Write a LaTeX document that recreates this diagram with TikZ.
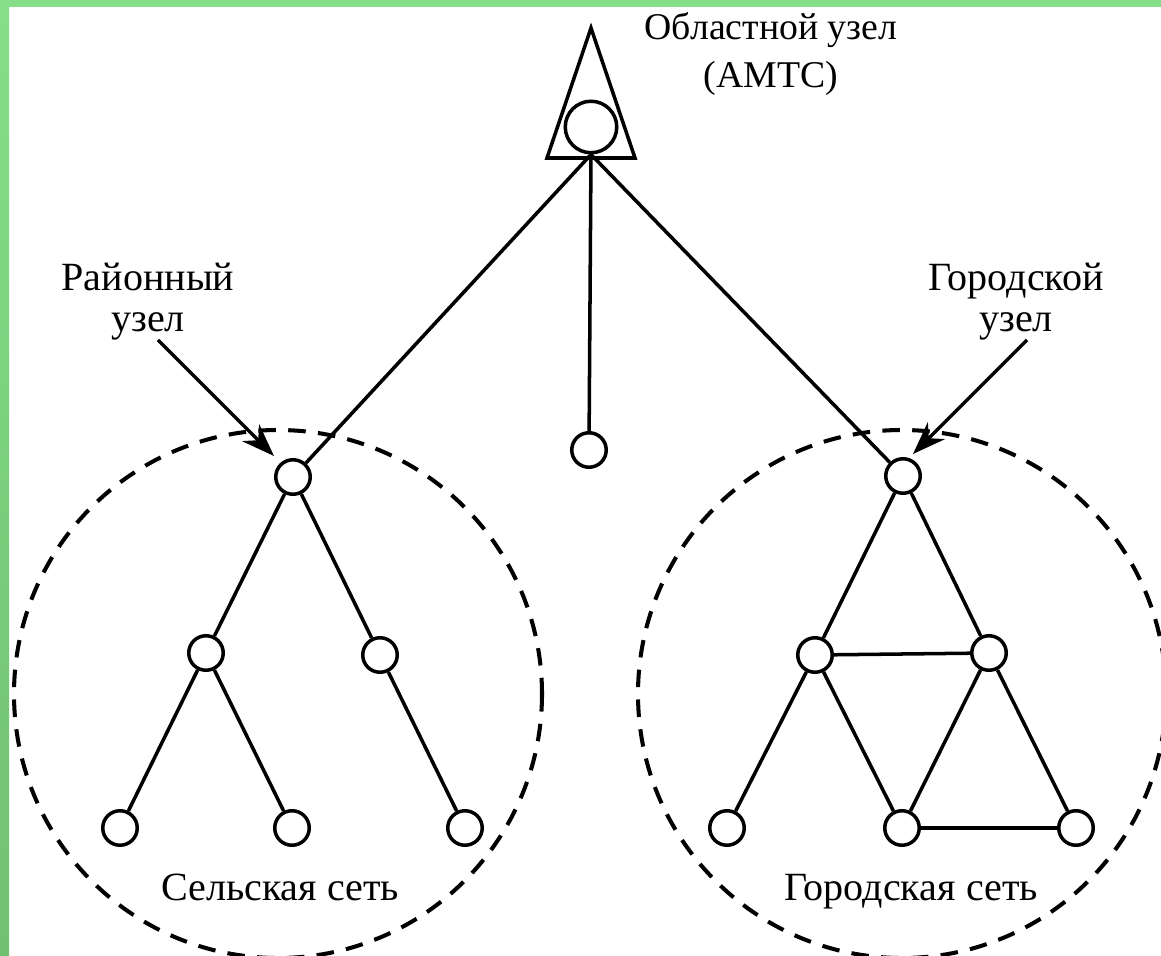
\documentclass[tikz,border=0pt]{standalone}
\usepackage{fontspec}
\setmainfont{Liberation Serif}
\usetikzlibrary{arrows.meta,positioning}
\definecolor{ramka}{RGB}{134,223,136}
\definecolor{ramkasvet}{RGB}{152,248,152}
\definecolor{ramkatemn}{RGB}{112,192,112}
\tikzset{
  uzel/.style={draw, circle, line width=2pt, minimum size=0.69cm, inner sep=0pt, fill=white},
  svyaz/.style={line width=2pt},
  zona/.style={line width=2.3pt, dash pattern=on 10pt off 7pt},
  strelka/.style={line width=2pt, -{Stealth[length=0.66cm,width=0.48cm]}},
  podpis/.style={font=\fontsize{22.8}{23.3}\selectfont, inner sep=0pt, align=center}
}
\begin{document}
\begin{tikzpicture}[x=0.02cm, y=-0.02cm]
    \useasboundingbox (0,0) rectangle (1161,956);
    \fill[white] (0,0) rectangle (1161,956);

    \draw[zona] (278,694) circle (264);
    \draw[zona] (902,694) circle (264);

    \coordinate (tverh) at (591,28);
    \coordinate (tlev) at (547,158);
    \coordinate (tprav) at (635,158);
    \draw[svyaz, line join=miter] (tverh) -- (tlev) -- (tprav) -- cycle;
    \node[uzel, minimum size=1.03cm] at (591,127) (obl) {};

    \node[uzel] at (589,450) (sr) {};

    \node[uzel] at (293,477) (r0) {};
    \node[uzel] at (206,653) (r1) {};
    \node[uzel] at (380,655) (r2) {};
    \node[uzel] at (120,828) (r11) {};
    \node[uzel] at (292,828) (r12) {};
    \node[uzel] at (465,828) (r21) {};

    \node[uzel] at (903,476) (g0) {};
    \node[uzel] at (815,655) (g1) {};
    \node[uzel] at (989,653) (g2) {};
    \node[uzel] at (727,828) (g11) {};
    \node[uzel] at (902,828) (g12) {};
    \node[uzel] at (1076,828) (g21) {};

    \draw[svyaz] (obl.south) -- (r0);
    \draw[svyaz] (obl.south) -- (sr);
    \draw[svyaz] (obl.south) -- (g0);
    \draw[svyaz] (r1) -- (r0) -- (r2);
    \draw[svyaz] (r11) -- (r1) -- (r12);
    \draw[svyaz] (r2) -- (r21);
    \draw[svyaz] (g1) -- (g0) -- (g2) -- (g1);
    \draw[svyaz] (g11) -- (g1) -- (g12) -- (g2) -- (g21) -- (g12);

    \node[podpis, font=\fontsize{21.5}{23.3}\selectfont, anchor=north] at (771,12) (tobl) {Областной узел\\[3.9pt](АМТС)};
    \node[podpis, anchor=north] at (148,263) (traion) {Районный\\узел};
    \node[podpis, anchor=north] at (1016,263) (tgor) {Городской\\узел};
    \node[podpis, anchor=base] at (280,900) (tsel) {Сельская сеть};
    \node[podpis, anchor=base] at (911,900) (tgset) {Городская сеть};

    \coordinate (ra1) at (158,340);
    \coordinate (ra2) at (274,456);
    \coordinate (ga1) at (1027,340);
    \coordinate (ga2) at (913,454);
    \draw[strelka] (ra1) -- (ra2);
    \draw[strelka] (ga1) -- (ga2);

    \fill[ramka] (0,0) rectangle (1161,7);
    \shade[top color=ramka, middle color=ramkasvet, bottom color=ramkatemn] (0,0) rectangle (9,956);
\end{tikzpicture}
\end{document}
